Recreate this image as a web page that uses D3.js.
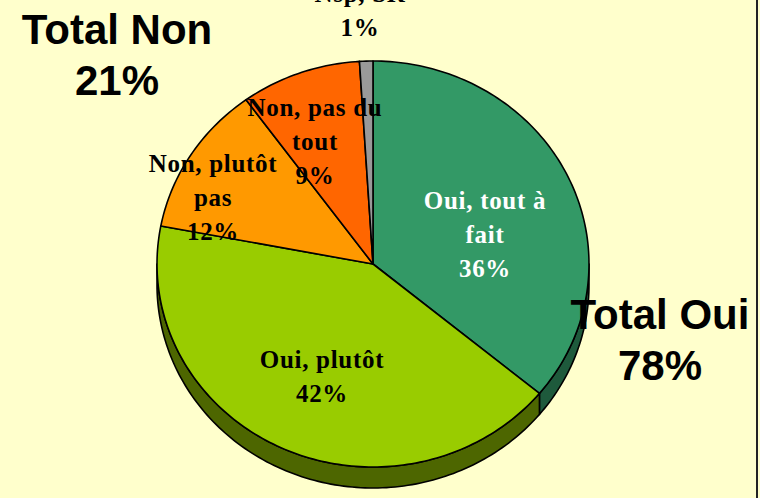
<!DOCTYPE html>
<style>
  body { margin: 0; background: #ffffcc; }
  svg { display: block; }
</style>
<body></body>
<script src="https://cdn.jsdelivr.net/npm/d3@7"></script>
<script>
  const width = 760
  const height = 498

  // answers, clockwise from 12 o'clock
  const categories = ["Oui, tout à\nfait", "Oui, plutôt", "Non, plutôt\npas", "Non, pas du\ntout", "Nsp, SR"]
  const values = [36, 42, 12, 9, 1]
  const topColors = ["#339966", "#99cc00", "#ff9900", "#ff6600", "#999999"]
  const sideColors = ["#1e5a3c", "#4d6600", "#995c00", "#993d00", "#5c5c5c"]
  const textColors = ["#fff", "#000", "#000", "#000", "#000"]

  const totals = [
    { label: "Total Non", value: 21 },
    { label: "Total Oui", value: 78 }
  ]

  // layout (not data)
  const cx = 373, cy = 264, rx = 216, ry = 203, depth = 21
  const labelAt = [[485, 209], [322, 368], [213, 172], [315, 116], [360, 2]]
  const totalAt = [[117, 44], [660, 329]]
  const lineGap = 34

  const svg = d3.select("body").append("svg")
    .attr("width", width)
    .attr("height", height)

  svg.append("rect")
    .attr("width", width)
    .attr("height", height)
    .attr("fill", "#ffffcc")

  // right frame edge
  svg.append("rect")
    .attr("x", 756).attr("y", 0)
    .attr("width", 2).attr("height", height)
    .attr("fill", "#222")

  const pie = d3.pie().sort(null).value(d => d)
  const arcs = pie(values)

  // point on the tilted circle, angle clockwise from top
  const pt = (a, dy = 0) => [cx + rx * Math.sin(a), cy - ry * Math.cos(a) + dy]

  function edge(a0, a1, dy) {
    const n = Math.max(2, Math.ceil(Math.abs(a1 - a0) / 0.02))
    return d3.range(n + 1).map(i => pt(a0 + (a1 - a0) * i / n, dy))
  }

  const line = d3.line()

  // outer walls, only the front half is visible
  const g = svg.append("g")
  arcs.forEach((d, i) => {
    const a0 = Math.max(d.startAngle, Math.PI / 2)
    const a1 = Math.min(d.endAngle, Math.PI * 3 / 2)
    if (a1 <= a0) return
    const pts = edge(a0, a1, 0).concat(edge(a1, a0, depth))
    g.append("path")
      .attr("d", line(pts) + "Z")
      .attr("fill", sideColors[i])
      .attr("stroke", "#000")
      .attr("stroke-width", 1.6)
      .attr("stroke-linejoin", "round")
  })

  // top faces
  arcs.forEach((d, i) => {
    const pts = [[cx, cy]].concat(edge(d.startAngle, d.endAngle, 0))
    g.append("path")
      .attr("d", line(pts) + "Z")
      .attr("fill", topColors[i])
      .attr("stroke", "#000")
      .attr("stroke-width", 1.6)
      .attr("stroke-linejoin", "round")
  })

  // slice labels
  arcs.forEach((d, i) => {
    const lines = categories[i].split("\n").concat([d.data + "%"])
    const t = svg.append("text")
      .attr("text-anchor", "middle")
      .attr("font-family", "'Liberation Serif', 'Times New Roman', serif")
      .attr("font-weight", "bold")
      .attr("font-size", 25)
      .attr("letter-spacing", 0.7)
      .attr("fill", textColors[i])
    lines.forEach((s, k) => {
      t.append("tspan")
        .attr("x", labelAt[i][0])
        .attr("y", labelAt[i][1] + k * lineGap)
        .text(s)
    })
  })

  // totals
  totals.forEach((d, i) => {
    const t = svg.append("text")
      .attr("text-anchor", "middle")
      .attr("font-family", "'Liberation Sans', Arial, sans-serif")
      .attr("font-weight", "bold")
      .attr("font-size", 42)
      .attr("fill", "#000")
    t.append("tspan").attr("x", totalAt[i][0]).attr("y", totalAt[i][1]).text(d.label)
    t.append("tspan").attr("x", totalAt[i][0]).attr("y", totalAt[i][1] + 51).text(d.value + "%")
  })
</script>
